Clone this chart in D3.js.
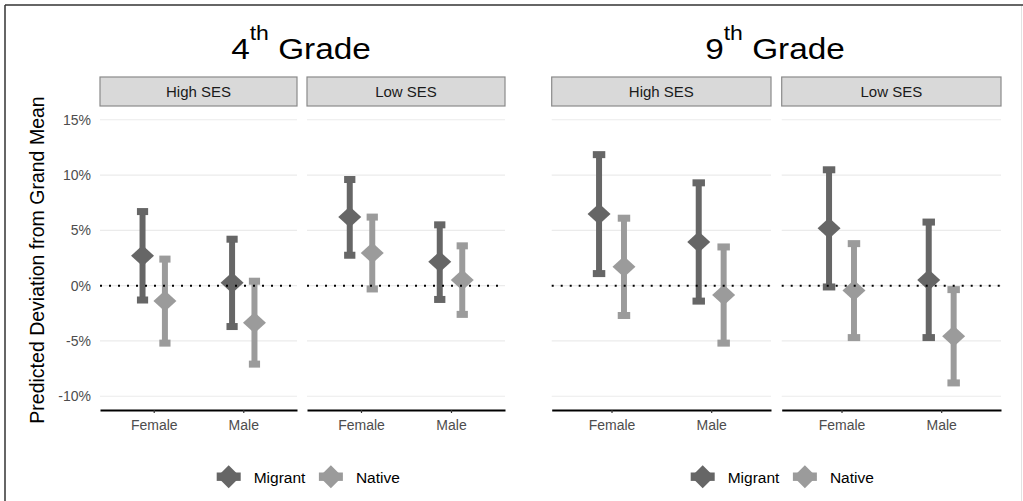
<!DOCTYPE html>
<html>
<head>
<meta charset="utf-8">
<script src="https://cdn.jsdelivr.net/npm/d3@7"></script>
<style>
    body { margin: 0; background: #fff; }
    svg { display: block; font-family: "Liberation Sans", Arial, sans-serif; }
</style>
</head>
<body>
<div id="chart"></div>
<script>
"use strict"

// categories
const grades = ["4", "9"];
const sesLevels = ["High SES", "Low SES"];
const genders = ["Female", "Male"];
const groups = ["Migrant", "Native"];

// predicted deviation (%), order: grade > SES > gender > group
const estimate = [
    2.7, -1.4, 0.25, -3.35,    6.2, 2.95, 2.15, 0.5,
    6.47, 1.7, 3.95, -0.85,    5.18, -0.45, 0.52, -4.58
];
const lower = [
    -1.3, -5.2, -3.7, -7.1,    2.75, -0.3, -1.25, -2.6,
    1.09, -2.7, -1.4, -5.2,    -0.12, -4.7, -4.7, -8.8
];
const upper = [
    6.7, 2.4, 4.2, 0.4,        9.6, 6.2, 5.5, 3.6,
    11.85, 6.1, 9.3, 3.5,      10.48, 3.8, 5.75, -0.36
];

const yTicks = [-10, -5, 0, 5, 10, 15];
const yDomain = [-11.25, 16.25];

let svg = d3.select("#chart").append("svg")
    .attr("width", 1023)
    .attr("height", 501);

// frame
svg.append("line").attr("x1", 5).attr("y1", 5).attr("x2", 5).attr("y2", 501)
    .style("stroke", "#333").style("stroke-width", "1.5px");
svg.append("line").attr("x1", 5).attr("y1", 5).attr("x2", 1023).attr("y2", 5)
    .style("stroke", "#333").style("stroke-width", "1.5px");
svg.append("line").attr("x1", 1021.5).attr("y1", 6).attr("x2", 1021.5).attr("y2", 501)
    .style("stroke", "#e2e2e2").style("stroke-width", "1px");

let color = d3.scaleOrdinal().domain(groups).range(["#666666", "#9b9b9b"]);

let y = d3.scaleLinear()
    .domain(yDomain)
    .range([410, 106]);

let charts = [
    { panels: [[100, 297], [307, 505]], titleX: 301, legendX: 216.7, yAxis: true },
    { panels: [[551.7, 771], [781.7, 1001]], titleX: 775, legendX: 690.7, yAxis: false }
];

function diamond(cx, cy, hw, hh) {
    return "M" + cx + "," + (cy - hh) + "L" + (cx + hw) + "," + cy +
        "L" + cx + "," + (cy + hh) + "L" + (cx - hw) + "," + cy + "Z";
}

charts.forEach(function(chart, gi) {
    let g = svg.append("g");

    // title with superscript
    let title = g.append("text")
        .attr("transform", "translate(" + chart.titleX + ",59) scale(1.15,1)")
        .attr("text-anchor", "middle")
        .style("fill", "#000");
    title.append("tspan").style("font-size", "29px").text(grades[gi]);
    title.append("tspan").style("font-size", "20px").attr("dy", -19).text("th");
    title.append("tspan").style("font-size", "29px").attr("dy", 19).text(" Grade");

    chart.panels.forEach(function(range, si) {
        let x = d3.scalePoint()
            .domain(genders)
            .range(range)
            .padding(0.6);
        let step = x.step();
        let dodge = d3.scalePoint().domain(groups).range([-step * 0.125, step * 0.125]);
        let capW = step * 0.125;

        // strip
        g.append("rect")
            .attr("x", range[0])
            .attr("y", 77)
            .attr("width", range[1] - range[0])
            .attr("height", 29)
            .style("fill", "#d9d9d9")
            .style("stroke", "#8a8a8a")
            .style("stroke-width", "1.2px");
        g.append("text")
            .attr("x", (range[0] + range[1]) / 2)
            .attr("y", 96.5)
            .attr("text-anchor", "middle")
            .style("font-size", "15px")
            .style("fill", "#1a1a1a")
            .text(sesLevels[si]);

        // gridlines
        g.selectAll(null).data(yTicks).enter().append("line")
            .attr("x1", range[0]).attr("x2", range[1])
            .attr("y1", d => y(d)).attr("y2", d => y(d))
            .style("stroke", "#ebebeb")
            .style("stroke-width", "1.1px");

        // rows of this panel
        let rows = [];
        genders.forEach(function(gender, ki) {
            groups.forEach(function(group, ji) {
                let idx = gi * 8 + si * 4 + ki * 2 + ji;
                rows.push({
                    gender: gender,
                    group: group,
                    est: estimate[idx],
                    lo: lower[idx],
                    hi: upper[idx]
                });
            });
        });

        // error bars
        g.selectAll(null).data(rows).enter().append("line")
            .attr("x1", d => x(d.gender) + dodge(d.group))
            .attr("x2", d => x(d.gender) + dodge(d.group))
            .attr("y1", d => y(d.lo))
            .attr("y2", d => y(d.hi))
            .style("stroke", d => color(d.group))
            .style("stroke-width", "6px");

        ["lo", "hi"].forEach(function(end) {
            g.selectAll(null).data(rows).enter().append("rect")
                .attr("x", d => x(d.gender) + dodge(d.group) - capW / 2)
                .attr("y", d => y(d[end]) - 3.5)
                .attr("width", capW)
                .attr("height", 7)
                .style("fill", d => color(d.group));
        });

        // points
        g.selectAll(null).data(rows).enter().append("path")
            .attr("d", d => diamond(x(d.gender) + dodge(d.group), y(d.est), 11.5, 10.5))
            .style("fill", d => color(d.group));

        // zero reference
        g.append("line")
            .attr("x1", range[0]).attr("x2", range[1])
            .attr("y1", y(0)).attr("y2", y(0))
            .style("stroke", "#000")
            .style("stroke-width", "2px")
            .style("stroke-dasharray", "2,7");

        // x axis
        let xAxis = g.append("g")
            .attr("transform", "translate(0,410)")
            .call(d3.axisBottom(x).tickSize(3).tickSizeOuter(0).tickPadding(7));
        xAxis.select(".domain").style("stroke", "#000").style("stroke-width", "2px");
        xAxis.selectAll(".tick line").style("stroke", "#333").style("stroke-width", "1.2px");
        xAxis.selectAll(".tick text")
            .style("font-size", "14px")
            .style("font-family", "Liberation Sans, Arial, sans-serif")
            .style("fill", "#4d4d4d");

        // y axis (first panel of first chart only)
        if (chart.yAxis && si === 0) {
            let yAxis = g.append("g")
                .attr("transform", "translate(" + range[0] + ",0)")
                .call(d3.axisLeft(y).tickValues(yTicks).tickSize(0).tickPadding(9)
                    .tickFormat(d => d + "%"));
            yAxis.select(".domain").remove();
            yAxis.selectAll(".tick text")
                .style("font-size", "14px")
                .style("font-family", "Liberation Sans, Arial, sans-serif")
                .style("fill", "#4d4d4d");
        }
    });

    if (chart.yAxis) {
        g.append("text")
            .attr("transform", "translate(44,260) rotate(-90)")
            .attr("text-anchor", "middle")
            .style("font-size", "19.5px")
            .style("fill", "#000")
            .text("Predicted Deviation from Grand Mean");
    }

    // legend
    let lx = chart.legendX;
    groups.forEach(function(group) {
        let key = g.append("g").attr("transform", "translate(" + (lx + 12) + ",476.7)");
        key.append("rect")
            .attr("x", -12).attr("y", -4.2)
            .attr("width", 24).attr("height", 8.4)
            .style("fill", color(group));
        key.append("path")
            .attr("d", diamond(0, 0, 11.5, 11.5))
            .style("fill", color(group));
        let label = g.append("text")
            .attr("x", lx + 37)
            .attr("y", 483)
            .style("font-size", "15.5px")
            .style("fill", "#000")
            .text(group);
        lx += 37 + label.node().getComputedTextLength() + 13.5;
    });
});
</script>
</body>
</html>
